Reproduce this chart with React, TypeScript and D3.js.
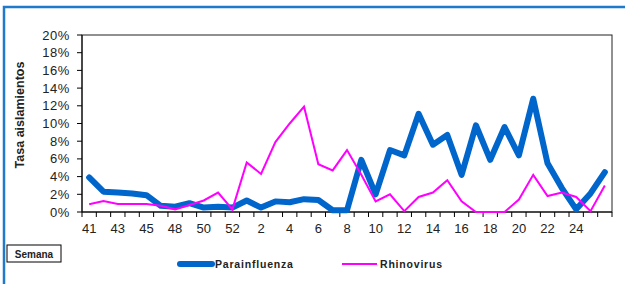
import React from 'react';
import * as d3 from 'd3';

const semanas = ['41', '42', '43', '44', '45', '47', '48', '49', '50', '51', '52', '1', '2', '3', '4', '5', '6', '7', '8', '9', '10', '11', '12', '13', '14', '15', '16', '17', '18', '19', '20', '21', '22', '23', '24', '25', '26'];
const tickLabels = ['41', '43', '45', '48', '50', '52', '2', '4', '6', '8', '10', '12', '14', '16', '18', '20', '22', '24'];
const parainfluenza = [3.9, 2.3, 2.2, 2.1, 1.9, 0.7, 0.6, 1.0, 0.5, 0.6, 0.5, 1.3, 0.5, 1.2, 1.1, 1.45, 1.35, 0.2, 0.2, 5.9, 2.0, 7.0, 6.4, 11.1, 7.6, 8.7, 4.2, 9.8, 5.9, 9.6, 6.4, 12.8, 5.5, 2.7, 0.3, 2.1, 4.5];
const rhinovirus = [0.87, 1.25, 0.9, 0.9, 0.9, 0.7, 0.3, 0.8, 1.3, 2.2, 0.3, 5.6, 4.3, 7.9, 10.0, 11.9, 5.4, 4.7, 7.0, 4.2, 1.2, 2.0, 0.1, 1.7, 2.2, 3.6, 1.2, 0, 0, 0, 1.4, 4.2, 1.8, 2.2, 1.7, 0.1, 3.0];
const yTicks = [0, 2, 4, 6, 8, 10, 12, 14, 16, 18, 20];

const font = '"Liberation Sans", Arial, sans-serif';

export default function App() {
  const left = 82, right = 612, top = 35, bottom = 212;

  const x = d3.scaleBand().domain(semanas).range([left, right]);
  const y = d3.scaleLinear().domain([0, 20]).range([bottom, top]);

  const line = d3.line<number>()
    .x((d, i) => x(semanas[i])! + x.bandwidth() / 2)
    .y(d => y(d));

  const boundaries = d3.range(semanas.length + 1).map(i => left + i * x.step());

  return (
    <div style={{ position: 'absolute', left: 0, top: 0 }}>
      <svg width={625} height={284} style={{ display: 'block', background: '#fff' }}>
        {/* outer frame */}
        <path d="M4,290 L4,7 L630,7" fill="none" stroke="#1f7acb" strokeWidth={2.5} />

        {/* plot area */}
        <rect x={left} y={top} width={right - left} height={bottom - top} fill="none" stroke="#222" strokeWidth={1} />

        {/* y axis */}
        <line x1={left} x2={left} y1={top} y2={bottom} stroke="#000" />
        {yTicks.map(t => (
          <g key={t}>
            <line x1={left - 5} x2={left} y1={y(t)} y2={y(t)} stroke="#000" />
            <text x={70} y={y(t) + 4.5} textAnchor="end" fontFamily={font} fontSize={13} fill="#222" letterSpacing={0.6}>{t}%</text>
          </g>
        ))}

        {/* x axis */}
        <line x1={left} x2={right} y1={bottom} y2={bottom} stroke="#000" />
        {boundaries.map((b, i) => (
          <line key={i} x1={b} x2={b} y1={bottom} y2={bottom + 5} stroke="#000" />
        ))}
        {tickLabels.map(t => (
          <text key={t} x={x(t)! + x.bandwidth() / 2} y={bottom + 21} textAnchor="middle" fontFamily={font} fontSize={13} fill="#222">{t}</text>
        ))}

        {/* series */}
        <path d={line(parainfluenza)!} fill="none" stroke="#0066cc" strokeWidth={6} strokeLinejoin="round" strokeLinecap="round" />
        <path d={line(rhinovirus)!} fill="none" stroke="#ff00ff" strokeWidth={2} strokeLinejoin="miter" />

        {/* y title */}
        <text transform="translate(24,115) rotate(-90)" textAnchor="middle" fontFamily={font} fontSize={12.5} fontWeight="bold" fill="#222">Tasa aislamientos</text>

        {/* semana box */}
        <rect x={7} y={245} width={54} height={17} fill="#fff" stroke="#000" strokeWidth={1} />
        <text x={34} y={257.5} textAnchor="middle" fontFamily={font} fontSize={10} fontWeight="bold" fill="#222">Semana</text>

        {/* legend */}
        <line x1={180} x2={212} y1={264} y2={264} stroke="#0066cc" strokeWidth={6} strokeLinecap="round" />
        <text x={215} y={268} fontFamily={font} fontSize={10.5} fontWeight="bold" fill="#222" letterSpacing={0.8}>Parainfluenza</text>
        <line x1={342} x2={377} y1={264} y2={264} stroke="#ff00ff" strokeWidth={2} />
        <text x={380} y={268} fontFamily={font} fontSize={10.5} fontWeight="bold" fill="#222" letterSpacing={0.8}>Rhinovirus</text>
      </svg>
    </div>
  );
}
